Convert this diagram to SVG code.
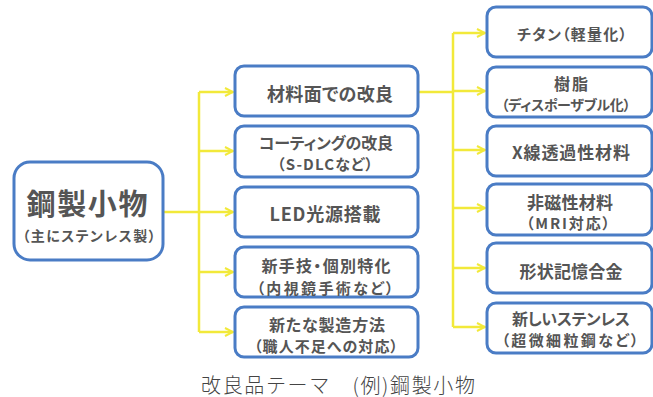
<svg xmlns="http://www.w3.org/2000/svg" width="653" height="397" viewBox="0 0 653 397">
<style>
.box{fill:#ffffff;stroke:#4a7cc5;stroke-width:3}
.t{font-family:"Noto Sans CJK JP","Noto Sans",sans-serif;font-weight:bold;fill:#555555;text-anchor:middle;dominant-baseline:central;font-feature-settings:"palt"}
.c{stroke:#f2e93a;stroke-width:2.5;fill:none}
.cap{font-family:"Noto Sans CJK JP",sans-serif;font-weight:300;fill:#444444;font-size:20px;text-anchor:middle;dominant-baseline:central}
</style>
<defs>
<marker id="ah" viewBox="0 0 10 10" refX="9" refY="5" markerWidth="10" markerHeight="10" markerUnits="userSpaceOnUse" orient="auto">
<path d="M1,1 L9,5 L1,9" fill="none" stroke="#f2e93a" stroke-width="2"/>
</marker>
</defs>
<g id="connectors">
<path class="c" d="M163,212 H199"/>
<path class="c" d="M199,92 V332"/>
<path class="c" d="M199,92 H233" marker-end="url(#ah)"/>
<path class="c" d="M199,151 H233" marker-end="url(#ah)"/>
<path class="c" d="M199,212 H233" marker-end="url(#ah)"/>
<path class="c" d="M199,272 H233" marker-end="url(#ah)"/>
<path class="c" d="M199,332 H233" marker-end="url(#ah)"/>
<path class="c" d="M418,92 H453"/>
<path class="c" d="M453,33 V327"/>
<path class="c" d="M453,33 H485" marker-end="url(#ah)"/>
<path class="c" d="M453,91 H485" marker-end="url(#ah)"/>
<path class="c" d="M453,150 H485" marker-end="url(#ah)"/>
<path class="c" d="M453,208 H485" marker-end="url(#ah)"/>
<path class="c" d="M453,268 H485" marker-end="url(#ah)"/>
<path class="c" d="M453,327 H485" marker-end="url(#ah)"/>
</g>
<g id="root">
<rect class="box" x="14" y="162" width="149" height="98" rx="16"/>
<text class="t" x="87" y="202" font-size="29" textLength="121">鋼製小物</text>
<text class="t" x="89" y="235" font-size="14" textLength="133">（主にステンレス製）</text>
</g>
<g id="m1">
<rect class="box" x="235" y="66" width="183" height="50" rx="9"/>
<text class="t" x="330" y="93" font-size="18" textLength="126">材料面での改良</text>
</g>
<g id="m2">
<rect class="box" x="235" y="126" width="183" height="51" rx="9"/>
<text class="t" x="326" y="142" font-size="16" textLength="134">コーティングの改良</text>
<text class="t" x="325" y="163" font-size="15" textLength="96">（S-DLCなど）</text>
</g>
<g id="m3">
<rect class="box" x="235" y="187" width="183" height="50" rx="9"/>
<text class="t" x="325" y="213" font-size="18" textLength="111">LED光源搭載</text>
</g>
<g id="m4">
<rect class="box" x="235" y="247" width="183" height="50" rx="9"/>
<text class="t" x="326" y="265" font-size="16" textLength="129">新手技・個別特化</text>
<text class="t" x="325" y="287" font-size="15" textLength="137">（内視鏡手術など）</text>
</g>
<g id="m5">
<rect class="box" x="235" y="307" width="183" height="50" rx="9"/>
<text class="t" x="327" y="324" font-size="16" textLength="116">新たな製造方法</text>
<text class="t" x="326" y="345" font-size="15" textLength="144">（職人不足への対応）</text>
</g>
<g id="r1">
<rect class="box" x="487" y="7" width="165" height="50" rx="9"/>
<text class="t" x="572" y="33" font-size="15" textLength="110">チタン（軽量化）</text>
</g>
<g id="r2">
<rect class="box" x="487" y="67" width="165" height="50" rx="9"/>
<text class="t" x="571" y="83" font-size="16" textLength="34">樹脂</text>
<text class="t" x="566" y="104" font-size="14" textLength="129">（ディスポーザブル化）</text>
</g>
<g id="r3">
<rect class="box" x="487" y="126" width="165" height="50" rx="9"/>
<text class="t" x="571" y="151" font-size="17" textLength="118">X線透過性材料</text>
</g>
<g id="r4">
<rect class="box" x="487" y="184" width="165" height="51" rx="9"/>
<text class="t" x="570" y="201" font-size="17" textLength="86">非磁性材料</text>
<text class="t" x="568" y="222" font-size="15" textLength="84">（MRI対応）</text>
</g>
<g id="r5">
<rect class="box" x="487" y="243" width="165" height="50" rx="9"/>
<text class="t" x="571" y="270" font-size="17" textLength="103">形状記憶合金</text>
</g>
<g id="r6">
<rect class="box" x="487" y="303" width="165" height="50" rx="9"/>
<text class="t" x="571" y="318" font-size="16" textLength="118">新しいステンレス</text>
<text class="t" x="570" y="339" font-size="15" textLength="137">（超微細粒鋼など）</text>
</g>
<text class="cap" x="338" y="384" textLength="274">改良品テーマ　(例)鋼製小物</text>
</svg>
